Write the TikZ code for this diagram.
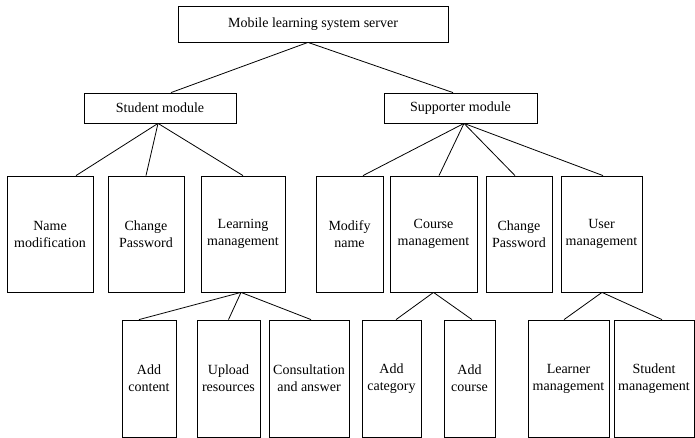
\documentclass[tikz,border=0pt]{standalone}
\usepackage{fontspec}
\setmainfont{Liberation Serif}
\begin{document}
\begin{tikzpicture}[x=1pt,y=-1pt,
  box/.style={draw, line width=0.8pt, inner sep=0pt, align=center, font=\fontsize{14}{17}\selectfont},
  lvltwo/.style={box, minimum height=116pt},
  lvlthree/.style={box, minimum height=117pt},
  conn/.style={line width=0.8pt}]
\useasboundingbox (0,0) rectangle (695,438);
% level 0
\node[box, minimum width=270pt, minimum height=36pt] (root) at (313,24) {Mobile learning system server};
% level 1
\node[box, minimum width=152pt, minimum height=30pt] (stu) at (160,108) {Student module};
\node[box, minimum width=153pt, minimum height=30pt] (sup) at (460.5,108) {Supporter module};
% level 2
\node[lvltwo, minimum width=86pt] (namemod) at (50,234) {Name\\modification};
\node[lvltwo, minimum width=76pt] (chpw) at (146,234) {Change\\Password};
\node[lvltwo, minimum width=84pt] (learn) at (243,234) {Learning\\management};
\node[lvltwo, minimum width=67pt] (modname) at (349.5,234) {Modify\\name};
\node[lvltwo, minimum width=87pt] (course) at (433.5,234) {Course\\management};
\node[lvltwo, minimum width=66pt] (chpwb) at (519,234) {Change\\Password};
\node[lvltwo, minimum width=81pt] (user) at (601.5,234) {User\\management};
% level 3
\node[lvlthree, minimum width=54pt] (addcont) at (149,378.5) {Add\\content};
\node[lvlthree, minimum width=63pt] (upload) at (228.5,378.5) {Upload\\resources};
\node[lvlthree, minimum width=80pt] (consult) at (309,378.5) {Consultation\\and answer};
\node[lvlthree, minimum width=59pt] (addcat) at (391.5,378.5) {Add\\category};
\node[lvlthree, minimum width=51pt] (addcourse) at (469.5,378.5) {Add\\course};
\node[lvlthree, minimum width=81pt] (learner) at (568.5,378.5) {Learner\\management};
\node[lvlthree, minimum width=80pt] (stumgmt) at (654,378.5) {Student\\management};
% connectors
\draw[conn] ([xshift=-5pt]root.south) -- ([xshift=11pt]stu.north);
\draw[conn] ([xshift=-5pt]root.south) -- ([xshift=-7.5pt]sup.north);
\draw[conn] ([xshift=-2pt]stu.south) -- ([xshift=26pt]namemod.north);
\draw[conn] ([xshift=-2pt]stu.south) -- (chpw.north);
\draw[conn] ([xshift=-2pt]stu.south) -- (learn.north);
\draw[conn] ([xshift=3.5pt]sup.south) -- ([xshift=13.5pt]modname.north);
\draw[conn] ([xshift=3.5pt]sup.south) -- ([xshift=5.5pt]course.north);
\draw[conn] ([xshift=3.5pt]sup.south) -- ([xshift=-4pt]chpwb.north);
\draw[conn] ([xshift=3.5pt]sup.south) -- ([xshift=1.5pt]user.north);
\draw[conn] ([xshift=-2pt]learn.south) -- ([xshift=-10pt]addcont.north);
\draw[conn] ([xshift=-2pt]learn.south) -- (upload.north);
\draw[conn] ([xshift=-2pt]learn.south) -- ([xshift=2pt]consult.north);
\draw[conn] (course.south) -- ([xshift=4.5pt]addcat.north);
\draw[conn] (course.south) -- ([xshift=2.5pt]addcourse.north);
\draw[conn] ([xshift=0.5pt]user.south) -- ([xshift=-4.5pt]learner.north);
\draw[conn] ([xshift=0.5pt]user.south) -- ([xshift=8pt]stumgmt.north);
\end{tikzpicture}
\end{document}
